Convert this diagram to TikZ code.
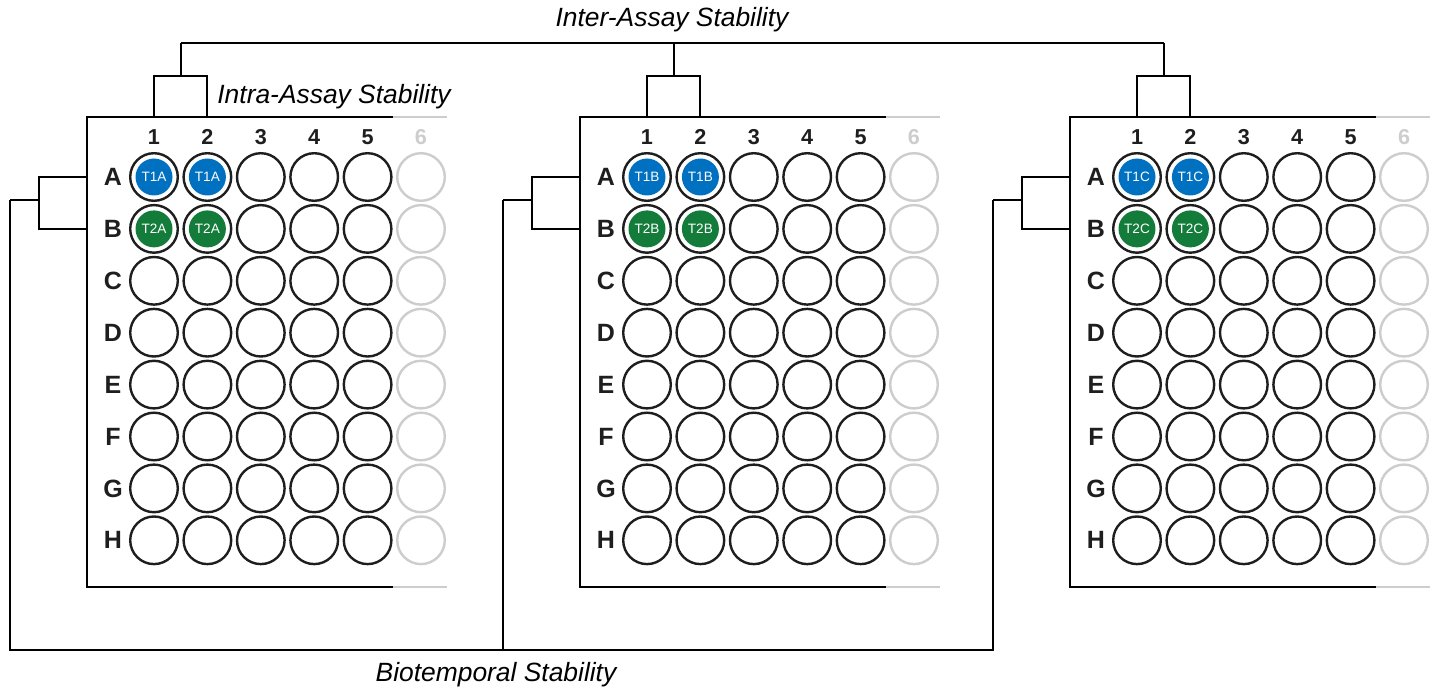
\documentclass[tikz,border=0pt]{standalone}
\usepackage{fontspec}
\setmainfont{Liberation Sans}
\usetikzlibrary{calc}
\definecolor{wellblue}{RGB}{0,112,192}
\definecolor{wellgreen}{RGB}{20,124,58}
\definecolor{faded}{RGB}{205,205,205}
\definecolor{ink}{RGB}{30,30,30}

\begin{document}
\begin{tikzpicture}[x=0.5pt, y=-0.5pt,
  well/.style={circle, draw=ink, line width=1.2pt, minimum size=23.8pt, inner sep=0pt},
  ghost/.style={well, draw=faded},
  sample/.style={circle, fill=#1, text=white, minimum size=18.5pt, inner sep=0pt,
                 font=\fontsize{6.8}{7}\selectfont},
  collabel/.style={font=\bfseries\fontsize{10.8}{11}\selectfont, text=ink},
  rowlabel/.style={font=\bfseries\fontsize{12.5}{13}\selectfont, text=ink},
  link/.style={draw=black, line width=1pt},
  title/.style={font=\itshape\fontsize{13.2}{15}\selectfont}]
  \useasboundingbox (0,0) rectangle (1437,690);

  \foreach \p/\tag/\ox in {1/A/87, 2/B/580, 3/C/1070} {
    % plate frame
    \coordinate (p\p-tl) at (\ox,117);
    \coordinate (p\p-bl) at (\ox,587);
    \draw[link] (\ox+306,117) -- (p\p-tl) -- (p\p-bl) -- (\ox+306,587);
    \draw[faded, line width=1pt] (\ox+306,117) -- (\ox+360,117);
    \draw[faded, line width=1pt] (\ox+306,587) -- (\ox+360,587);
    % wells
    \foreach \r [count=\ri] in {A,B,C,D,E,F,G,H} {
      \foreach \c/\ws in {1/well,2/well,3/well,4/well,5/well,6/ghost}
        \node[\ws] (p\p-\r\c) at ({\ox+67+(\c-1)*53.4},{177+(\ri-1)*51.9}) {};
      \node[rowlabel] (p\p-l\r) at (\ox+26,{177+(\ri-1)*51.9}) {\r};
    }
    \foreach \c in {1,...,5}
      \node[collabel] (p\p-n\c) at (p\p-A\c |- 0,137) {\c};
    \node[collabel, text=faded] (p\p-n6) at (p\p-A6 |- 0,137) {6};
    % samples
    \node[sample=wellblue] (t1\p-a) at (p\p-A1) {T1\tag};
    \node[sample=wellblue] (t1\p-b) at (p\p-A2) {T1\tag};
    \node[sample=wellgreen] (t2\p-a) at (p\p-B1) {T2\tag};
    \node[sample=wellgreen] (t2\p-b) at (p\p-B2) {T2\tag};
    % intra-assay bracket
    \coordinate (p\p-c1) at (p\p-A1 |- 0,76);
    \coordinate (p\p-c2) at (p\p-A2 |- 0,76);
    \coordinate (p\p-mid) at ({\ox+93.7},76);
    \coordinate (inter\p) at ({\ox+93.7},43);
    \draw[link] (p\p-A1 |- p\p-tl) -- (p\p-c1) -- (p\p-c2) -- (p\p-A2 |- p\p-tl);
    \draw[link] (p\p-mid) -- (inter\p);
    % row bracket
    \coordinate (p\p-rb) at (\ox-48,200);
    \coordinate (bio\p) at (\ox-77,200);
    \draw[link] (p\p-A1 -| p\p-tl) -- (p\p-rb |- p\p-A1) -- (p\p-rb |- p\p-B1) -- (p\p-B1 -| p\p-tl);
    \draw[link] (p\p-rb) -- (bio\p);
  }

  % inter-assay and biotemporal links
  \coordinate (bio-base) at (bio2 |- 0,650);
  \draw[link] (inter1) -- (inter3);
  \draw[link] (bio1) |- (bio-base) -| (bio3);
  \draw[link] (bio2) -- (bio-base);

  \node[title] (inter-txt) at (672,20) {Inter-Assay Stability};
  \node[title, anchor=west, inner sep=0pt] (intra-txt) at (217,97) {Intra-Assay Stability};
  \node[title] (bio-txt) at (496,675) {Biotemporal Stability};
\end{tikzpicture}
\end{document}
